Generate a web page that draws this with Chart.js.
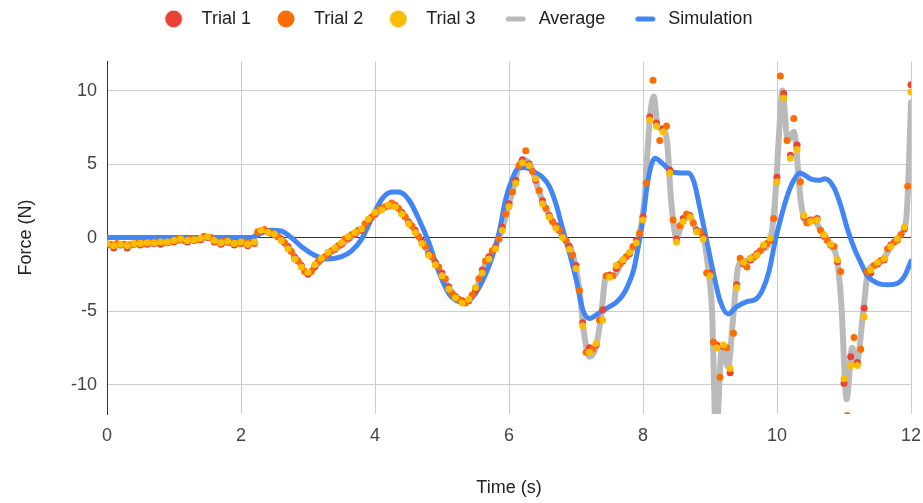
<!DOCTYPE html>
<html>
<head>
<meta charset="utf-8">
<script src="https://cdn.jsdelivr.net/npm/chart.js@4/dist/chart.umd.min.js"></script>
<style>
  html, body { margin: 0; padding: 0; background: #fff; }
</style>
</head>
<body>
<canvas id="forceChart" width="923" height="503"></canvas>
<script>
// sample times (s) of the three trials; trial 2 was logged half a step later
const trialTimes = [
  0, 0.1, 0.2, 0.3, 0.4, 0.5, 0.6, 0.7, 0.8, 0.9,
  1, 1.1, 1.2, 1.3, 1.4, 1.5, 1.6, 1.7, 1.8, 1.9,
  2, 2.1, 2.2, 2.3, 2.4, 2.5, 2.6, 2.7, 2.8, 2.9,
  3, 3.1, 3.2, 3.3, 3.4, 3.5, 3.6, 3.7, 3.8, 3.9,
  4, 4.1, 4.2, 4.3, 4.4, 4.5, 4.6, 4.7, 4.8, 4.9,
  5, 5.1, 5.2, 5.3, 5.4, 5.5, 5.6, 5.7, 5.8, 5.9,
  6, 6.1, 6.2, 6.3, 6.4, 6.5, 6.6, 6.7, 6.8, 6.9,
  7, 7.1, 7.2, 7.3, 7.4, 7.5, 7.6, 7.7, 7.8, 7.9,
  8, 8.1, 8.2, 8.3, 8.4, 8.5, 8.6, 8.7, 8.8, 8.9,
  9, 9.1, 9.2, 9.3, 9.4, 9.5, 9.6, 9.7, 9.8, 9.9,
  10, 10.1, 10.2, 10.3, 10.4, 10.5, 10.6, 10.7, 10.8, 10.9,
  11, 11.1, 11.2, 11.3, 11.4, 11.5, 11.6, 11.7, 11.8, 11.9,
  12
];
const trial2Times = [
  0.05, 0.15, 0.25, 0.35, 0.45, 0.55, 0.65, 0.75, 0.85, 0.95,
  1.05, 1.15, 1.25, 1.35, 1.45, 1.55, 1.65, 1.75, 1.85, 1.95,
  2.05, 2.15, 2.25, 2.35, 2.45, 2.55, 2.65, 2.75, 2.85, 2.95,
  3.05, 3.15, 3.25, 3.35, 3.45, 3.55, 3.65, 3.75, 3.85, 3.95,
  4.05, 4.15, 4.25, 4.35, 4.45, 4.55, 4.65, 4.75, 4.85, 4.95,
  5.05, 5.15, 5.25, 5.35, 5.45, 5.55, 5.65, 5.75, 5.85, 5.95,
  6.05, 6.15, 6.25, 6.35, 6.45, 6.55, 6.65, 6.75, 6.85, 6.95,
  7.05, 7.15, 7.25, 7.35, 7.45, 7.55, 7.65, 7.75, 7.85, 7.95,
  8.05, 8.15, 8.25, 8.35, 8.45, 8.55, 8.65, 8.75, 8.85, 8.95,
  9.05, 9.15, 9.25, 9.35, 9.45, 9.55, 9.65, 9.75, 9.85, 9.95,
  10.05, 10.15, 10.25, 10.35, 10.45, 10.55, 10.65, 10.75, 10.85, 10.95,
  11.05, 11.15, 11.25, 11.35, 11.45, 11.55, 11.65, 11.75, 11.85, 11.95
];

// force (N)
const trial1 = [
  -0.5, -0.7, -0.5, -0.7, -0.45, -0.5, -0.45, -0.4, -0.45, -0.35,
  -0.3, -0.15, -0.3, -0.2, -0.15, 0, -0.3, -0.45, -0.3, -0.5,
  -0.4, -0.55, -0.4, 0.45, 0.4, 0.2, -0.1, -0.6, -1.35, -1.9,
  -2.5, -2, -1.45, -1.1, -0.8, -0.45, -0.05, 0.25, 0.5, 1.15,
  1.6, 2, 2.15, 2.2, 1.7, 1.05, 0.5, -0.25, -1.1, -1.7,
  -2.4, -3.35, -4, -4.3, -4.3, -3.6, -2.2, -1.3, -0.65, 0.7,
  2.3, 3.9, 5.3, 5, 3.9, 2.5, 1.5, 0.8, 0.1, -0.6,
  -1.9, -5.8, -7.5, -7.3, -4.9, -2.55, -2.1, -1.6, -1.1, -0.2,
  1.4, 8.2, 7.8, 7.4, 4.6, -0.1, 1.3, 1.5, 0.5, 0.05,
  -2.4, -7.3, -7.4, -9.2, -3.2, -1.8, -1.5, -1.1, -0.6, -0.17,
  4.1, 9.8, 5.6, 6.3, 1.4, 1.2, 1.3, 0.1, -0.5, -1.65,
  -9.9, -8.1, -8.5, -4.8, -2.4, -1.8, -1.5, -0.5, -0.17, 0.6,
  10.4
];
const trial2 = [
  -0.45, -0.4, -0.45, -0.5, -0.4, -0.4, -0.35, -0.3, -0.35, -0.3,
  -0.1, -0.2, -0.1, -0.15, 0.1, 0, -0.3, -0.25, -0.35, -0.4,
  -0.3, -0.35, 0.4, 0.55, 0.3, 0.05, -0.35, -0.95, -1.6, -2.3,
  -2.3, -1.65, -1.3, -0.9, -0.55, -0.1, 0.2, 0.5, 0.95, 1.4,
  1.9, 2.1, 2.35, 2, 1.4, 0.8, 0.1, -0.6, -1.3, -2,
  -2.8, -3.8, -4.2, -4.45, -3.9, -2.8, -1.6, -0.9, -0.1, 1.6,
  3.1, 4.9, 5.9, 4.5, 3.2, 2, 1.1, 0.5, -0.2, -1.2,
  -3.6, -7.8, -7.6, -5.6, -2.6, -2.6, -1.8, -1.3, -0.6, 0.3,
  3.7, 10.7, 6.6, 7.6, 1.2, 0.8, 1.6, 1, 0.4, -2.4,
  -7.1, -9.5, -7.5, -6.5, -1.4, -2, -1.3, -0.9, -0.4, 1.3,
  11, 6.6, 8.1, 3.8, 1, 1.2, 0.5, -0.2, -0.6, -2.3,
  -12.1, -6.8, -7.6, -2.3, -1.9, -1.55, -0.75, -0.3, 0.2, 3.5
];
const trial3 = [
  -0.4, -0.55, -0.45, -0.55, -0.4, -0.4, -0.35, -0.35, -0.3, -0.3,
  -0.2, -0.1, -0.2, -0.15, -0.05, 0.05, -0.2, -0.35, -0.25, -0.4,
  -0.3, -0.45, -0.3, 0.5, 0.35, 0.25, -0.2, -0.75, -1.45, -2,
  -2.35, -1.85, -1.4, -1, -0.7, -0.35, 0.05, 0.35, 0.6, 1.25,
  1.7, 1.9, 2.2, 2.1, 1.6, 0.95, 0.35, -0.4, -1.2, -1.85,
  -2.6, -3.5, -4.1, -4.45, -4.2, -3.4, -2.4, -1.45, -0.75, 0.5,
  2.1, 3.7, 5.1, 4.9, 4, 2.3, 1.4, 0.65, 0, -0.8,
  -2.1, -6, -7.8, -7.2, -5.6, -2.7, -1.9, -1.5, -1, -0.35,
  1.2, 8, 7.6, 7.2, 4.4, -0.3, 1.1, 1.4, 0.4, -0.1,
  -2.6, -7.5, -7.3, -8.9, -3.4, -1.7, -1.4, -1.2, -0.5, -0.05,
  3.8, 9.5, 5.4, 6, 1.5, 1.1, 1.2, 0.2, -0.45, -1.5,
  -9.6, -8.7, -8.7, -5.4, -2.2, -1.7, -1.4, -0.6, -0.1, 0.7,
  9.9
];

const avgTimes = [
  0, 0.5, 1, 1.5, 1.7, 2.15, 2.25, 2.4, 2.55, 2.7,
  2.85, 3, 3.1, 3.3, 3.5, 3.7, 3.85, 4, 4.15, 4.27,
  4.4, 4.55, 4.7, 4.9, 5.1, 5.25, 5.35, 5.5, 5.65, 5.8,
  5.9, 6.05, 6.2, 6.3, 6.45, 6.6, 6.8, 6.95, 7.05, 7.12,
  7.2, 7.3, 7.37, 7.45, 7.55, 7.7, 7.85, 7.95, 8.02, 8.1,
  8.16, 8.22, 8.3, 8.36, 8.42, 8.5, 8.6, 8.7, 8.8, 8.9,
  8.97, 9.03, 9.09, 9.18, 9.27, 9.35, 9.42, 9.5, 9.6, 9.75,
  9.9, 9.97, 10.03, 10.08, 10.16, 10.25, 10.36, 10.43, 10.55, 10.65,
  10.8, 10.9, 10.96, 11.04, 11.12, 11.19, 11.29, 11.36, 11.5, 11.6,
  11.7, 11.85, 11.93, 11.97, 12
];
const avgForce = [
  -0.45, -0.45, -0.25, 0, -0.35, -0.4, 0.35, 0.45, 0.15, -0.6,
  -1.55, -2.4, -2, -1.15, -0.5, 0.2, 0.75, 1.55, 2.05, 2.2,
  1.75, 0.8, -0.3, -1.7, -3.4, -4.2, -4.4, -3.6, -1.8, -0.6,
  0.6, 3.1, 5.3, 5.1, 3.1, 1.5, 0.1, -1.1, -3.5, -6.5,
  -8.1, -7.4, -5.5, -2.6, -2.6, -1.6, -0.7, 0.3, 2.5, 8,
  9.6, 7.6, 7.3, 6.5, 2.5, 0, 1.2, 1.4, 0.5, 0,
  -2, -5, -13.5, -7.4, -8.8, -5.2, -2, -1.6, -1.6, -0.9,
  -0.15, 2.5, 7, 10, 6.6, 7.2, 2.3, 1.1, 1.2, 0.5,
  -0.5, -1.6, -4.5, -11, -7.5, -8.5, -4.9, -2.3, -1.8, -1.4,
  -0.55, 0.2, 1.3, 5, 9.2
];

const simTimes = [
  0, 2.15, 2.3, 2.45, 2.6, 2.75, 2.9, 3.1, 3.3, 3.5,
  3.65, 3.8, 3.95, 4.1, 4.25, 4.35, 4.5, 4.65, 4.8, 4.95,
  5.1, 5.25, 5.35, 5.5, 5.65, 5.75, 5.85, 5.95, 6.05, 6.15,
  6.25, 6.4, 6.5, 6.6, 6.7, 6.8, 6.9, 7, 7.1, 7.2,
  7.35, 7.5, 7.6, 7.7, 7.78, 7.86, 7.93, 8, 8.07, 8.18,
  8.3, 8.45, 8.6, 8.68, 8.76, 8.85, 8.95, 9.05, 9.15, 9.27,
  9.4, 9.55, 9.68, 9.78, 9.88, 9.97, 10.05, 10.15, 10.25, 10.34,
  10.5, 10.62, 10.72, 10.85, 10.95, 11.05, 11.15, 11.25, 11.35, 11.5,
  11.65, 11.8, 11.9, 12
];
const simForce = [
  0, 0, 0.3, 0.5, 0.45, 0, -0.6, -1.2, -1.45, -1.3,
  -0.9, -0.1, 1.3, 2.6, 3.1, 3.1, 2.6, 1.3, -0.3, -2.3,
  -3.8, -4.35, -4.4, -3.8, -2.5, -1.3, 0.3, 2.6, 4, 4.75,
  4.75, 4.4, 4.1, 3.5, 2.3, 0.6, -1, -2.8, -4.9, -5.5,
  -5.1, -4.7, -4.4, -3.9, -3.2, -2.2, -0.6, 1.3, 3.8, 5.4,
  5, 4.45, 4.4, 4.4, 3.8, 2, -0.2, -2.4, -4.3, -5.2,
  -4.7, -4.35, -4.2, -3.6, -2.3, -0.3, 1.2, 2.8, 3.9, 4.4,
  4, 3.9, 4, 3.4, 2.2, 0.6, -0.7, -1.7, -2.6, -3.1,
  -3.2, -3.1, -2.65, -1.6
];

const xTicks = [0, 2, 4, 6, 8, 10, 12];
const yTicks = [-10, -5, 0, 5, 10];

const colors = {
  trial1: '#ea4335',
  trial2: '#ff6d01',
  trial3: '#fbbc04',
  average: '#bababa',
  simulation: '#4285f4'
};

const toPoints = (xs, ys) => ys.map((y, i) => ({ x: xs[i], y }));

// little canvases used as legend markers (dot or short bar)
function legendIcon(kind, color) {
  const c = document.createElement('canvas');
  c.width = 44;
  c.height = 20;
  const g = c.getContext('2d');
  g.fillStyle = color;
  g.beginPath();
  if (kind === 'dot') {
    g.arc(25, 10, 8.5, 0, Math.PI * 2);
  } else if (g.roundRect) {
    g.roundRect(20, 7.5, 20, 5, 2.5);
  } else {
    g.rect(20, 7.5, 20, 5);
  }
  g.fill();
  return c;
}

const legendIcons = [
  legendIcon('dot', colors.trial1),
  legendIcon('dot', colors.trial2),
  legendIcon('dot', colors.trial3),
  legendIcon('bar', colors.average),
  legendIcon('bar', colors.simulation)
];

Chart.defaults.font.family = "'Liberation Sans', Arial, sans-serif";
Chart.defaults.font.size = 18;
Chart.defaults.color = '#444';

const dots = (label, xs, ys, color, order) => ({
  label,
  data: toPoints(xs, ys),
  showLine: false,
  backgroundColor: color,
  borderColor: color,
  pointRadius: 3.5,
  pointBorderWidth: 0,
  pointHoverRadius: 3.5,
  order,
  clip: 0
});

const curve = (label, xs, ys, color, width, order) => ({
  label,
  data: toPoints(xs, ys),
  borderColor: color,
  backgroundColor: color,
  borderWidth: width,
  pointRadius: 0,
  cubicInterpolationMode: 'monotone',
  borderJoinStyle: 'round',
  borderCapStyle: 'round',
  fill: false,
  order,
  clip: 0
});

const ctx = document.getElementById('forceChart').getContext('2d');

new Chart(ctx, {
  type: 'line',
  data: {
    datasets: [
      dots('Trial 1', trialTimes, trial1, colors.trial1, 2),
      dots('Trial 2', trial2Times, trial2, colors.trial2, 1),
      dots('Trial 3', trialTimes, trial3, colors.trial3, 0),
      curve('Average', avgTimes, avgForce, colors.average, 6, 4),
      curve('Simulation', simTimes, simForce, colors.simulation, 5, 3)
    ]
  },
  options: {
    responsive: false,
    animation: false,
    events: [],
    layout: {
      padding: { top: 0, right: 12, bottom: 0, left: 0 }
    },
    scales: {
      x: {
        type: 'linear',
        min: 0,
        max: 12,
        afterBuildTicks: (scale) => {
          scale.ticks = xTicks.map(v => ({ value: v }));
        },
        afterFit: (scale) => {
          scale.height = 89;
          // the "12" label may hang into the right margin
          scale.paddingLeft = 0;
          scale.paddingRight = 0;
        },
        ticks: {
          padding: 11,
          color: '#444'
        },
        grid: {
          color: '#cccccc',
          drawTicks: false
        },
        border: {
          display: false
        },
        title: {
          display: true,
          text: 'Time (s)',
          color: '#222',
          padding: { top: 0, bottom: 4 }
        }
      },
      y: {
        type: 'linear',
        min: -12,
        max: 12,
        afterBuildTicks: (scale) => {
          scale.ticks = yTicks.map(v => ({ value: v }));
        },
        afterFit: (scale) => {
          scale.width = 107;
        },
        ticks: {
          padding: 10,
          color: '#444'
        },
        grid: {
          color: (c) => (c.tick && c.tick.value === 0 ? '#333333' : '#cccccc'),
          drawTicks: false
        },
        border: {
          display: true,
          color: '#333333'
        },
        title: {
          display: true,
          text: 'Force (N)',
          color: '#222',
          padding: { top: 15, bottom: 0 }
        }
      }
    },
    plugins: {
      legend: {
        display: true,
        position: 'top',
        labels: {
          usePointStyle: true,
          pointStyleWidth: 44,
          padding: 10,
          color: '#222',
          font: { size: 18 },
          // two trailing spaces on the last entry nudge the centred row a bit left
          generateLabels: (chart) => chart.data.datasets.map((ds, i, all) => ({
            text: i === all.length - 1 ? ds.label + '  ' : ds.label,
            pointStyle: legendIcons[i],
            fillStyle: ds.backgroundColor,
            strokeStyle: ds.borderColor,
            lineWidth: 0,
            hidden: false,
            datasetIndex: i,
            fontColor: '#222'
          }))
        }
      },
      // empty title used as a spacer between the legend and the plot
      title: {
        display: true,
        text: '',
        weight: 500,
        font: { size: 1 },
        padding: { top: 0, bottom: 22 }
      },
      tooltip: {
        enabled: false
      }
    }
  }
});
</script>
</body>
</html>
